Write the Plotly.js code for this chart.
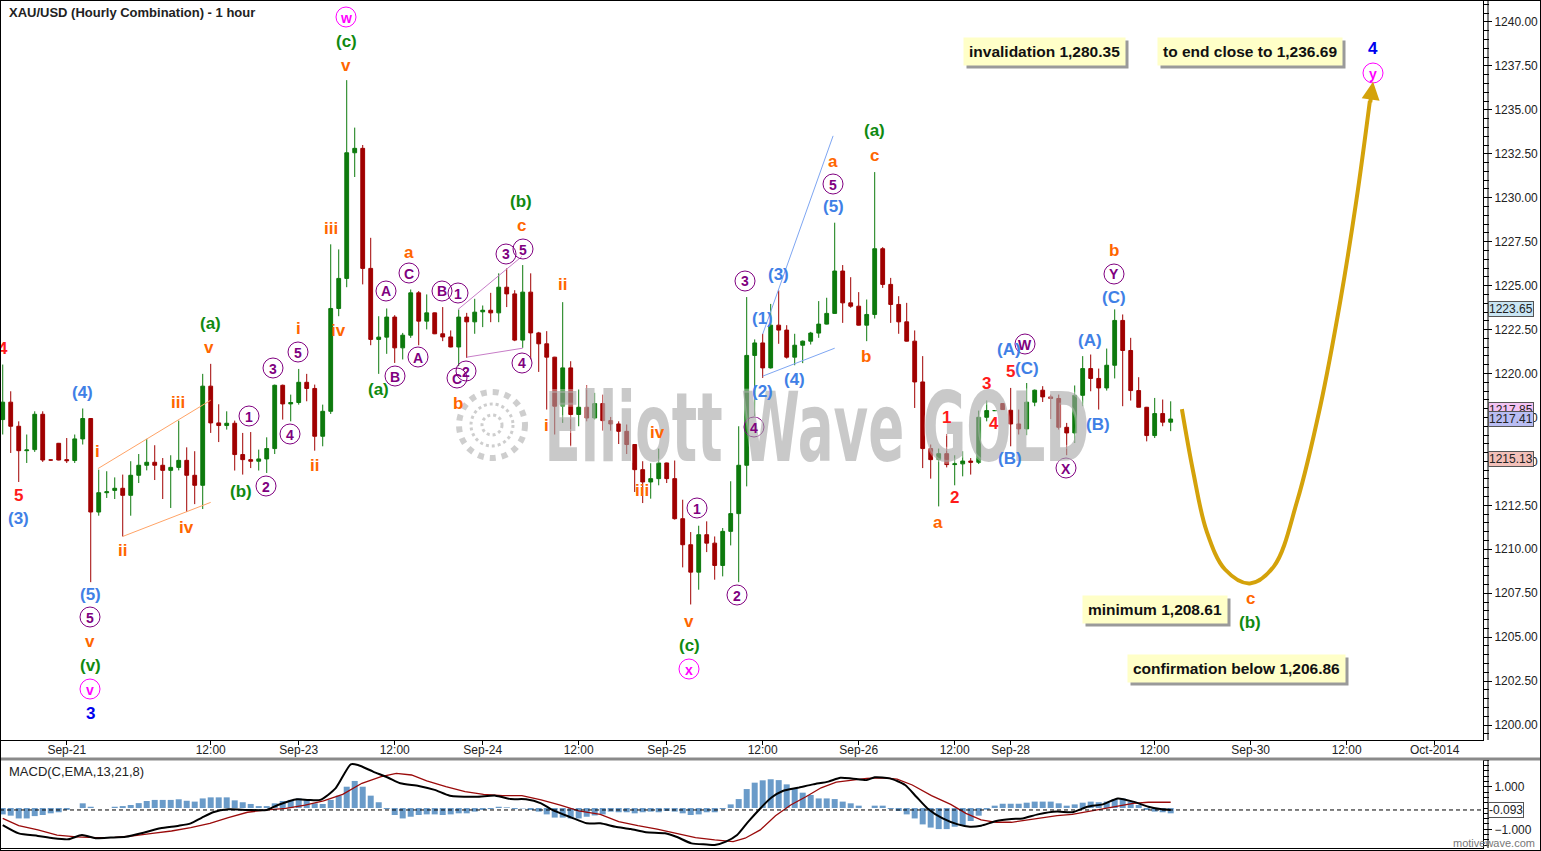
<!DOCTYPE html>
<html><head><meta charset="utf-8">
<script src="https://cdn.plot.ly/plotly-3.0.1.min.js"></script>
<style>
html,body{margin:0;padding:0;background:#fff;}
#wrap{position:relative;width:1541px;height:851px;overflow:hidden;}
#chart{position:absolute;left:0;top:0;width:1541px;height:851px;}
#frame{position:absolute;left:0;top:0;width:1539px;height:849px;border:1px solid #000;pointer-events:none;}
</style></head><body>
<div id="wrap"><div id="chart"></div><div id="frame"></div></div>
<script>
// ---------------- DATA (hourly bars, index 0 = Fri Sep-19 09:00) ----------------
const open  = [1217.38,1218.37,1217.00,1215.61,1215.67,1217.68,1215.08,1216.03,1215.10,1215.05,
1216.28,1217.44,1212.12,1213.22,1213.35,1213.47,1213.07,1214.21,1214.78,1214.95,
1214.78,1214.49,1214.66,1215.06,1214.21,1213.64,1219.28,1217.19,1217.04,1217.17,
1215.39,1215.10,1215.01,1215.14,1215.73,1219.33,1218.27,1218.35,1219.50,1219.15,
1216.43,1217.85,1223.70,1225.41,1232.56,1232.81,1225.98,1221.94,1222.07,1223.21,
1221.46,1222.18,1224.59,1222.98,1223.45,1222.26,1222.08,1221.51,1223.21,1222.94,
1223.51,1223.60,1223.45,1224.91,1224.53,1221.90,1224.63,1222.31,1221.69,1220.93,
1218.14,1220.32,1217.67,1218.08,1217.47,1218.29,1217.32,1217.13,1216.71,1215.96,
1214.53,1213.83,1214.02,1214.91,1214.02,1211.74,1210.26,1208.70,1210.83,1210.35,
1209.08,1211.02,1212.03,1214.78,1221.03,1221.74,1220.32,1222.75,1222.47,1220.93,
1221.61,1221.84,1222.30,1222.81,1223.42,1225.83,1224.02,1223.83,1222.75,1223.36,
1227.10,1225.07,1223.93,1222.94,1221.84,1219.52,1215.73,1215.10,1215.44,1214.82,
1214.86,1215.02,1214.95,1217.51,1217.89,1218.29,1217.91,1217.13,1216.85,1218.37,
1219.05,1218.67,1218.58,1216.94,1216.62,1218.76,1220.28,1219.72,1219.18,1220.47,
1223.02,1221.31,1219.03,1218.08,1216.47,1217.72,1217.23];
const high  = [1220.51,1218.99,1217.28,1216.53,1217.85,1217.85,1215.10,1216.05,1216.33,1216.53,
1218.01,1217.46,1214.53,1214.44,1214.09,1214.25,1215.01,1215.42,1216.28,1215.92,
1215.19,1215.35,1217.32,1215.80,1215.58,1219.98,1220.55,1218.25,1217.85,1217.32,
1216.62,1216.67,1215.67,1216.37,1219.37,1219.37,1218.80,1220.26,1219.98,1219.37,
1218.23,1227.35,1227.06,1236.69,1233.99,1233.00,1227.72,1223.26,1223.70,1223.32,
1222.31,1224.78,1224.69,1224.50,1223.47,1223.78,1222.45,1223.64,1223.45,1224.25,
1223.87,1224.59,1225.70,1225.98,1224.74,1226.17,1225.70,1222.37,1222.41,1220.95,
1224.06,1220.70,1219.09,1219.33,1218.90,1218.80,1217.53,1217.28,1217.10,1215.99,
1215.01,1214.91,1215.73,1214.93,1215.05,1212.82,1210.98,1211.34,1211.59,1210.73,
1211.21,1213.87,1217.00,1224.35,1221.94,1222.26,1223.96,1224.73,1222.75,1222.26,
1221.88,1222.37,1224.12,1224.31,1228.58,1226.17,1225.48,1224.63,1224.21,1231.46,
1227.19,1225.44,1224.40,1224.02,1222.45,1220.99,1215.96,1215.73,1216.56,1215.35,
1215.58,1215.19,1217.89,1218.46,1217.91,1218.31,1219.18,1217.95,1219.46,1219.09,
1219.28,1218.80,1218.80,1217.19,1219.32,1220.99,1221.08,1220.28,1221.42,1223.65,
1223.36,1222.03,1219.79,1218.10,1218.61,1218.52,1218.42];
const low   = [1216.53,1215.48,1213.83,1214.91,1215.54,1214.97,1215.05,1215.06,1214.91,1214.91,
1215.96,1208.13,1211.91,1212.92,1212.86,1210.73,1211.91,1213.77,1214.49,1213.94,
1212.86,1212.35,1214.49,1212.12,1212.57,1212.29,1216.62,1216.10,1216.81,1214.48,
1214.25,1214.62,1214.48,1214.34,1215.42,1217.38,1217.28,1218.23,1218.42,1215.61,
1215.86,1217.70,1223.26,1224.91,1231.18,1225.07,1221.61,1219.98,1221.12,1220.60,
1220.80,1222.03,1221.61,1222.51,1222.24,1221.84,1221.49,1220.42,1220.89,1222.26,
1222.64,1222.92,1222.92,1223.78,1221.84,1221.46,1220.80,1220.09,1217.95,1216.53,
1217.19,1215.86,1217.00,1217.28,1217.38,1216.75,1216.75,1215.99,1215.42,1213.26,
1212.63,1212.88,1213.64,1213.77,1211.69,1208.97,1206.86,1207.70,1209.84,1208.27,
1208.46,1210.22,1208.13,1213.58,1217.57,1219.75,1220.28,1221.69,1220.85,1220.47,
1220.59,1221.65,1222.03,1222.79,1223.40,1222.88,1223.74,1222.73,1221.84,1223.13,
1224.87,1222.88,1222.26,1221.82,1218.04,1214.62,1214.02,1212.44,1214.66,1213.64,
1214.15,1214.25,1214.85,1217.28,1217.87,1217.93,1215.86,1216.53,1216.49,1218.14,
1218.38,1217.41,1216.81,1215.35,1216.05,1218.14,1218.99,1217.95,1219.03,1219.72,
1218.14,1218.46,1218.08,1216.14,1216.33,1217.00,1216.72];
const close = [1218.37,1217.00,1215.61,1215.65,1217.68,1215.08,1215.08,1215.08,1215.04,1216.28,
1217.44,1212.12,1213.22,1213.27,1213.47,1213.07,1214.21,1214.78,1214.95,1214.78,
1214.49,1214.66,1215.06,1214.21,1213.64,1219.28,1217.19,1217.04,1217.17,1215.39,
1215.10,1215.01,1215.14,1215.73,1219.33,1218.27,1218.35,1219.50,1219.15,1216.43,
1217.85,1223.70,1225.41,1232.56,1232.81,1225.98,1221.94,1222.07,1223.21,1221.46,
1222.18,1224.59,1222.98,1223.45,1222.26,1222.08,1221.51,1223.21,1222.94,1223.49,
1223.60,1223.45,1224.91,1224.53,1221.90,1224.63,1222.31,1221.69,1220.93,1218.14,
1220.32,1217.67,1218.08,1217.47,1218.29,1217.32,1217.13,1216.71,1215.96,1214.53,
1213.83,1214.02,1214.91,1214.02,1211.74,1210.26,1208.70,1210.83,1210.35,1209.08,
1211.02,1212.03,1214.78,1221.03,1221.74,1220.32,1222.75,1222.47,1220.93,1221.61,
1221.84,1222.30,1222.81,1223.42,1225.83,1224.02,1223.83,1222.75,1223.36,1227.10,
1225.07,1223.93,1222.94,1221.84,1219.52,1215.73,1215.10,1215.44,1214.82,1214.86,
1215.02,1214.95,1217.51,1217.89,1217.89,1217.95,1217.13,1216.85,1218.37,1219.05,
1218.67,1218.58,1216.94,1216.62,1218.76,1220.28,1219.72,1219.18,1220.47,1223.02,
1221.31,1219.03,1218.08,1216.47,1217.72,1217.23,1217.41];

// MACD(13,21,8) histogram per bar
const macdHist = [-0.30,-0.36,-0.49,-0.49,-0.38,-0.33,-0.25,-0.20,-0.09,0.00,
0.22,0.06,0.00,0.00,0.06,0.09,0.14,0.23,0.33,0.38,
0.38,0.38,0.41,0.34,0.30,0.45,0.50,0.50,0.50,0.36,
0.27,0.19,0.09,0.09,0.22,0.33,0.38,0.45,0.42,0.22,
0.19,0.38,0.58,1.00,1.27,1.00,0.58,0.27,-0.05,-0.33,
-0.49,-0.41,-0.33,-0.30,-0.30,-0.33,-0.30,-0.25,-0.25,-0.17,
-0.09,-0.05,0.06,0.03,-0.05,-0.02,-0.09,-0.17,-0.30,-0.45,
-0.45,-0.49,-0.49,-0.41,-0.35,-0.30,-0.17,-0.20,-0.20,-0.25,
-0.20,-0.17,-0.20,-0.14,-0.17,-0.25,-0.33,-0.30,-0.20,-0.20,
-0.05,0.17,0.42,0.89,1.19,1.30,1.35,1.31,1.11,0.92,
0.72,0.61,0.45,0.45,0.42,0.30,0.22,0.11,0.00,0.11,
0.11,-0.05,-0.14,-0.30,-0.49,-0.77,-0.92,-0.99,-0.99,-0.88,
-0.80,-0.61,-0.36,-0.08,0.11,0.20,0.20,0.20,0.25,0.30,
0.30,0.30,0.22,0.11,0.17,0.25,0.30,0.27,0.30,0.42,
0.45,0.30,0.14,-0.09,-0.17,-0.20,-0.25];
// MACD line, read at bar positions
const macdBar = [0,2,4.4,6.3,8.2,9.9,11.6,13.5,15.4,17.8,19.7,22,23.5,24.9,26.3,28.2,30.6,33,34.4,36.8,38.2,39.7,41.6,43.5,44.4,46.3,48.2,49.7,52,54,55.9,59.2,61.6,63.5,65.4,67.3,68.7,71.1,73,
74.7,76.6,78.5,80.4,82.8,84.2,86.1,88,89,90.4,91.8,93.2,94.7,96.1,97.5,99.4,101.3,103.2,104.7,106.1,108,109,110.9,112.8,114.2,115.6,117.5,119.4,120.9,122.3,124.2,126.1,127.5,129.4,131.8,133.7,135.6,137.5,139.4,141.3,143.2,144.7,146];
const macdVal = [-0.80,-1.19,-1.31,-1.42,-1.47,-1.27,-1.42,-1.39,-1.35,-1.14,-0.95,-0.83,-0.72,-0.45,-0.20,-0.06,-0.09,-0.09,0.14,0.41,0.38,0.38,0.92,2.05,2.02,1.71,1.42,1.16,1.03,0.85,0.58,0.53,0.58,0.42,0.41,0.22,-0.09,-0.45,-0.72,
-0.72,-0.88,-0.99,-1.14,-1.19,-1.35,-1.66,-1.71,-1.74,-1.58,-1.27,-0.64,-0.02,0.49,0.80,0.95,1.11,1.24,1.42,1.39,1.31,1.44,1.39,1.08,0.53,-0.02,-0.49,-0.77,-0.88,-0.83,-0.61,-0.52,-0.49,-0.30,-0.17,-0.20,0.06,0.17,0.45,0.30,0.06,-0.05,-0.093];
// signal line
const sigBar = [0,2,4.4,6.8,9.2,11.6,14,16.3,18.7,21.1,23.5,25.9,28.2,30.6,33,35.4,37.8,40.1,42.5,44.9,47.3,49.2,51.1,53,55.4,57.8,60.1,62.5,64.9,67.3,69.7,72,74.7,
77,79.4,81.8,84.2,86.6,89,91.3,92.8,94.7,96.6,98.5,100.4,102.3,104.2,106.1,108,109.9,111.8,113.7,116.1,118.5,120.4,122.3,124.2,126.1,128,129.9,131.8,133.7,135.6,137.5,139.4,141.3,143.2,146];
const sigVal = [-0.49,-0.83,-1.03,-1.27,-1.36,-1.39,-1.38,-1.31,-1.19,-1.08,-0.92,-0.72,-0.45,-0.20,-0.09,-0.02,0.14,0.33,0.64,1.16,1.47,1.63,1.55,1.27,1.00,0.77,0.64,0.58,0.58,0.38,0.14,-0.14,-0.30,
-0.64,-0.83,-0.99,-1.19,-1.39,-1.50,-1.58,-1.42,-1.03,-0.36,0.14,0.53,0.95,1.21,1.31,1.39,1.42,1.36,1.08,0.58,0.17,-0.25,-0.56,-0.67,-0.67,-0.56,-0.45,-0.36,-0.30,-0.17,-0.05,0.06,0.22,0.27,0.27];

// projected path (bar, price)
const projBar   = [147.4,148.8,150.5,152.8,155.9,158.9,161.8,164.7,167.2,169.2,170.9];
const projPrice = [1217.97,1214.44,1211.02,1208.85,1208.06,1209.03,1212.73,1218.14,1224.12,1229.81,1235.51];

// trend lines [bar0, price0, bar1, price1]
const channelLines = [
  [11.9,1214.59,26.0,1218.48,'#ffa366'],[15.0,1210.73,26.0,1212.67,'#ffa366'],
  [56.9,1223.64,64.9,1226.66,'#c77dc7'],[58.0,1220.93,65.0,1221.44,'#c77dc7'],
  [95.0,1222.24,103.8,1233.52,'#7ea6f2'],[95.0,1219.85,104.0,1221.44,'#7ea6f2']
];

const tickBars = [8,26,37,49,60,72,83,95,107,119,126,144,156,168,179];
const tickText = ['Sep-21','12:00','Sep-23','12:00','Sep-24','12:00','Sep-25','12:00','Sep-26','12:00','Sep-28','12:00','Sep-30','12:00','Oct-2014'];
const priceTags = [['1223.65',1223.65,'#c9e5f3'],['1217.85',1217.95,'#f3c3f3'],['1217.41',1217.41,'#b9bdf3'],['1215.13',1215.13,'#f3c0b9']];

// wave labels: [text, pixel x, pixel y, colour]
const waveLabels = [
 ['4',3,348,'R'],['5',18,495,'R'],['1',946,417,'R'],['2',954,498,'R'],['3',986,384,'R'],['4',994,423,'R'],['5',1010,371,'R'],
 ['(3)',18,518,'B'],['(4)',82,392,'B'],['(5)',90,594,'B'],['(1)',762,318,'B'],['(3)',778,275,'B'],['(2)',762,391,'B'],['(4)',794,379,'B'],['(5)',833,207,'B'],
 ['(A)',1009,349,'B'],['(C)',1027,368,'B'],['(B)',1010,459,'B'],['(A)',1090,340,'B'],['(B)',1098,424,'B'],['(C)',1114,297,'B'],
 ['3',90,713,'N'],['4',1373,48,'N'],
 ['i',98,452,'O'],['v',90,641,'O'],['ii',122,550,'O'],['iii',178,402,'O'],['iv',186,527,'O'],['v',209,347,'O'],['i',298,328,'O'],['ii',314,465,'O'],
 ['iii',331,228,'O'],['iv',338,330,'O'],['v',346,65,'O'],['a',409,252,'O'],['b',458,403,'O'],['c',521,226,'O'],['ii',562,285,'O'],['i',546,425,'O'],
 ['iv',657,432,'O'],['iii',642,490,'O'],['v',689,621,'O'],['a',833,161,'O'],['c',874,155,'O'],['b',866,356,'O'],['a',938,522,'O'],['b',1114,251,'O'],['c',1250,598,'O'],
 ['(v)',90,665,'G'],['(a)',210,323,'G'],['(b)',241,491,'G'],['(c)',346,41,'G'],['(a)',378,389,'G'],['(b)',521,201,'G'],['(c)',689,645,'G'],['(a)',874,130,'G'],['(b)',1250,622,'G']
];
const circledLabels = [
 ['5',90,617,'P'],['1',249,416,'P'],['2',266,486,'P'],['3',273,368,'P'],['4',290,434,'P'],['5',298,352,'P'],['A',386,291,'P'],['B',395,376,'P'],
 ['C',409,273,'P'],['A',418,357,'P'],['B',442,291,'P'],['1',458,293,'P'],['C',457,378,'P'],['2',466,371,'P'],['3',506,254,'P'],['5',523,249,'P'],
 ['4',522,363,'P'],['1',697,508,'P'],['2',737,595,'P'],['3',745,281,'P'],['4',754,427,'P'],['5',833,184,'P'],['W',1025,344,'P'],['X',1066,468,'P'],['Y',1114,274,'P'],
 ['v',90,689,'M'],['w',346,17,'M'],['x',689,669,'M'],['y',1373,73,'M']
];
const noteBoxes = [['invalidation 1,280.35',1044,52],['to end close to 1,236.69',1250,51],['minimum 1,208.61',1155,609],['confirmation below 1,206.86',1236,668]];

// ---------------- RENDER ----------------
const FONT = '"Liberation Sans", Arial, sans-serif';
const COL = {R:'#ff1a1a', B:'#3f80e6', N:'#0000ee', O:'#ff6600', G:'#108a10', P:'#800080', M:'#ff00ff'};
const PW = 1483, PH = 851;
const px = x => x / PW, py = y => 1 - y / PH;
const bars = open.map((_, i) => i);

const traces = [
 {type:'candlestick', x:bars, open, high, low, close, xaxis:'x', yaxis:'y',
  increasing:{line:{color:'#0d7a0d', width:1}, fillcolor:'#0d7a0d'},
  decreasing:{line:{color:'#a00000', width:1}, fillcolor:'#a00000'},
  whiskerwidth:0, hoverinfo:'skip', showlegend:false},
 {type:'scatter', mode:'lines', x:projBar, y:projPrice, xaxis:'x', yaxis:'y',
  line:{color:'#d4a20a', width:4, shape:'spline', smoothing:1}, hoverinfo:'skip', showlegend:false},
 {type:'bar', x:bars, y:macdHist, xaxis:'x2', yaxis:'y2', marker:{color:'#6a9bc9'}, hoverinfo:'skip', showlegend:false},
 {type:'scatter', mode:'lines', x:sigBar, y:sigVal, xaxis:'x2', yaxis:'y2', line:{color:'#9a0a0a', width:1.3}, hoverinfo:'skip', showlegend:false},
 {type:'scatter', mode:'lines', x:macdBar, y:macdVal, xaxis:'x2', yaxis:'y2', line:{color:'#000', width:2, shape:'spline', smoothing:0.6}, hoverinfo:'skip', showlegend:false}
];

const ann = [], shapes = [];
const txt = (t, x, y, color, size, extra) => Object.assign({xref:'paper', yref:'paper', x:px(x), y:py(y), text:t, showarrow:false,
  xanchor:'center', yanchor:'middle', font:{family:FONT, size, color, weight:'bold'}}, extra || {});

// watermark logo rings + text
[[33,6],[21,3],[10,3]].forEach(([r,w]) => shapes.push({type:'circle', xref:'paper', yref:'paper', xsizemode:'pixel', ysizemode:'pixel',
  xanchor:px(492), yanchor:py(425), x0:-r, x1:r, y0:-r, y1:r, line:{color:'rgba(190,190,190,0.75)', width:w, dash:'dot'}, layer:'above'}));
ann.push({xref:'paper', yref:'paper', x:px(817), y:py(428), text:'Elliott Wave GOLD', showarrow:false, xanchor:'center', yanchor:'middle',
  font:{family:'"DejaVu Sans Condensed", "DejaVu Sans", sans-serif', size:96, color:'rgba(165,165,165,0.6)', weight:'bold'}});

// trend lines
channelLines.forEach(([x0,y0,x1,y1,c]) => shapes.push({type:'line', xref:'x', yref:'y', x0, y0, x1, y1, line:{color:c, width:1}}));

waveLabels.forEach(([t,x,y,c]) => ann.push(txt(t, x, y, COL[c], 17)));
circledLabels.forEach(([t,x,y,c]) => {
  shapes.push({type:'circle', xref:'paper', yref:'paper', xsizemode:'pixel', ysizemode:'pixel', xanchor:px(x), yanchor:py(y),
    x0:-10, x1:10, y0:-10, y1:10, line:{color:COL[c], width:1}});
  ann.push(txt(t, x, y + 0.5, COL[c], 14));
});

noteBoxes.forEach(([t,x,y]) => {
  ann.push(txt(t, x, y, '#9a9a9a', 15.5, {bgcolor:'#9a9a9a', borderpad:5, xshift:3, yshift:-3}));
  ann.push(txt(t, x, y, '#111', 15.5, {bgcolor:'#ffffc8', borderpad:5}));
});

// arrow head of projection
ann.push({xref:'x', yref:'y', x:171.3, y:1236.6, ax:-3, ay:22, showarrow:true, arrowhead:2, arrowsize:0.9, arrowwidth:4, arrowcolor:'#d4a20a', text:''});

// title & panel labels
ann.push({xref:'paper', yref:'paper', x:px(7), y:py(12), text:'XAU/USD (Hourly Combination) - 1 hour', showarrow:false, xanchor:'left', yanchor:'middle',
  font:{family:FONT, size:13, color:'#222', weight:'bold'}});
ann.push({xref:'paper', yref:'paper', x:px(7), y:py(771), text:'MACD(C,EMA,13,21,8)', showarrow:false, xanchor:'left', yanchor:'middle',
  font:{family:FONT, size:13, color:'#222'}});
ann.push({xref:'paper', yref:'paper', x:px(1537), y:py(843), text:'motivewave.com', showarrow:false, xanchor:'right', yanchor:'middle',
  font:{family:FONT, size:11, color:'#777'}});

// right axis price tags
priceTags.forEach(([t,v,bg]) => ann.push({xref:'paper', yref:'y', x:px(1488), y:v, text:t, showarrow:false, xanchor:'left', yanchor:'middle',
  bgcolor:bg, bordercolor:'#555', borderwidth:1, borderpad:0, font:{family:FONT, size:12, color:'#222'}}));
ann.push({xref:'paper', yref:'y2', x:px(1488), y:-0.093, text:'-0.093', showarrow:false, xanchor:'left', yanchor:'middle',
  bgcolor:'#fff', bordercolor:'#555', borderwidth:1, borderpad:0, font:{family:FONT, size:12, color:'#222'}});

// frame pieces
shapes.push({type:'line', xref:'paper', yref:'y2', x0:0, x1:1, y0:-0.093, y1:-0.093, line:{color:'#000', width:1, dash:'4px,3px'}});
shapes.push({type:'line', xref:'paper', yref:'paper', x0:0, x1:1541/PW, y0:py(759), y1:py(759), line:{color:'#8a8a8a', width:3}});
shapes.push({type:'line', xref:'paper', yref:'paper', x0:px(1488), x1:px(1488), y0:py(740), y1:1, line:{color:'#000', width:1}});
shapes.push({type:'line', xref:'paper', yref:'paper', x0:px(1488), x1:px(1488), y0:py(848), y1:py(760), line:{color:'#000', width:1}});

const yDomMain = [py(740), 1], yDomMacd = [py(848), py(760)];
const tickFont = {family:FONT, size:12, color:'#222'};
const priceTicks = []; for (let v = 1200; v <= 1240; v += 2.5) priceTicks.push(v);

const layout = {
  width:1541, height:851, margin:{l:0, r:58, t:0, b:0}, paper_bgcolor:'#fff', plot_bgcolor:'#fff',
  showlegend:false, hovermode:false, dragmode:false, boxgap:0.32, bargap:0.25,
  xaxis:{domain:[0,1], anchor:'y', range:[-0.34, 185.04], tickvals:tickBars, ticktext:tickText, ticks:'outside', ticklen:4,
    tickcolor:'#000', showline:true, linecolor:'#000', linewidth:1, showgrid:false, zeroline:false, tickfont:tickFont,
    ticklabelstandoff:-5, rangeslider:{visible:false}, fixedrange:true},
  yaxis:{domain:yDomMain, anchor:'x', side:'right', range:[1199.15, 1241.25], tickvals:priceTicks, tickformat:'.2f',
    ticks:'outside', ticklen:8, tickcolor:'#000', showline:true, linecolor:'#000', linewidth:1, showgrid:false, zeroline:false,
    tickfont:tickFont, minor:{dtick:0.5, tick0:1200, ticks:'outside', ticklen:5, tickcolor:'#000'}, fixedrange:true},
  xaxis2:{domain:[0,1], anchor:'y2', matches:'x', showticklabels:false, ticks:'', showline:true, linecolor:'#000', linewidth:1,
    showgrid:false, zeroline:false, fixedrange:true},
  yaxis2:{domain:yDomMacd, anchor:'x2', side:'right', range:[-1.878, 2.254], tickvals:[-1, 1], tickformat:'.3f',
    ticks:'outside', ticklen:8, tickcolor:'#000', showline:true, linecolor:'#000', linewidth:1, showgrid:false, zeroline:false,
    tickfont:tickFont, minor:{dtick:0.25, ticks:'outside', ticklen:5, tickcolor:'#000'}, fixedrange:true},
  annotations:ann, shapes:shapes
};

Plotly.newPlot('chart', traces, layout, {displayModeBar:false, staticPlot:true}).then(() => {
  document.querySelectorAll('#chart .annotation-text').forEach(t => {
    if (t.textContent === 'Elliott Wave GOLD') {
      t.setAttribute('textLength', '545');
      t.setAttribute('lengthAdjust', 'spacingAndGlyphs');
      t.style.paintOrder = 'stroke';
      t.style.stroke = 'rgba(255,255,255,0.35)';
      t.style.strokeWidth = '4px';
    }
  });
});
</script></body></html>
